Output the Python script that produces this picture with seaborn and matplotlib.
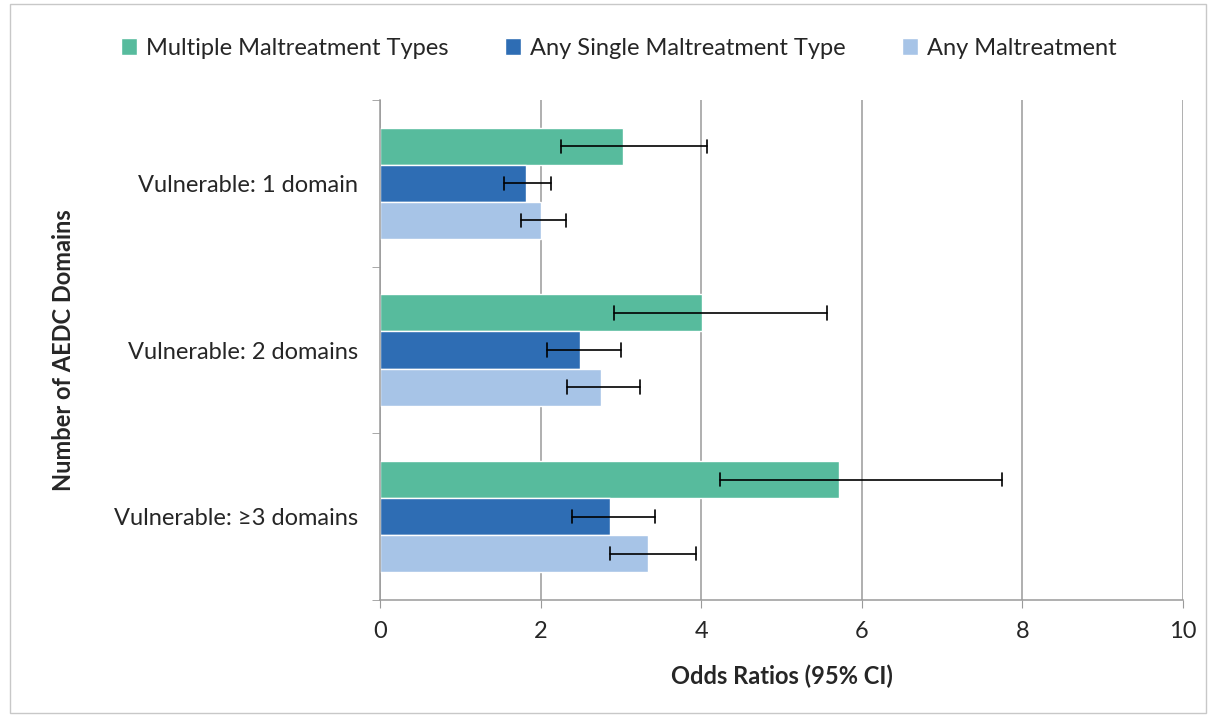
import matplotlib
matplotlib.use("Agg")
import matplotlib.pyplot as plt
from matplotlib.patches import Rectangle
import seaborn as sns
import pandas as pd
import numpy as np

# data
domains = ["Vulnerable: 1 domain", "Vulnerable: 2 domains", "Vulnerable: \u22653 domains"]
series = ["Multiple Maltreatment Types", "Any Single Maltreatment Type", "Any Maltreatment"]
multiple_or = [3.03, 4.01, 5.72]
multiple_lo = [2.26, 2.91, 4.24]
multiple_hi = [4.07, 5.57, 7.74]
single_or = [1.82, 2.49, 2.87]
single_lo = [1.55, 2.08, 2.39]
single_hi = [2.13, 3.00, 3.43]
any_or = [2.00, 2.75, 3.34]
any_lo = [1.75, 2.33, 2.86]
any_hi = [2.32, 3.24, 3.93]
colors = ["#57BB9D", "#2E6DB4", "#A7C4E7"]

sns.set_style("white")
plt.rcParams["font.family"] = ["Lato", "DejaVu Sans"]
FS = 17

df = pd.DataFrame({
    "domain": domains * 3,
    "series": [s for s in series for _ in domains],
    "odds": multiple_or + single_or + any_or,
})
lows = [multiple_lo, single_lo, any_lo]
highs = [multiple_hi, single_hi, any_hi]

fig = plt.figure(figsize=(12.16, 7.17), dpi=100)
ax = fig.add_axes([0.3125, 0.1632, 0.6604, 0.6973])

sns.barplot(data=df, y="domain", x="odds", hue="series", order=domains,
            hue_order=series, palette=colors, width=0.667, orient="h",
            saturation=1, ax=ax, legend=True)

# error bars placed on the bar centres seaborn computed
for cont, lo, hi in zip(ax.containers, lows, highs):
    for bar, l, h in zip(cont, lo, hi):
        y = bar.get_y() + bar.get_height() / 2
        ax.plot([l, h], [y, y], color="black", lw=1.2, zorder=5)
        for xv in (l, h):
            ax.plot([xv, xv], [y - 0.04, y + 0.04], color="black", lw=1.2, zorder=5)

ax.set_xlim(0, 10)
ax.set_ylim(2.5, -0.5)
ax.set_xticks(np.arange(0, 11, 2))
ax.xaxis.grid(True, color="#9a9a9a", lw=1.1)
ax.set_axisbelow(True)
for s in ["top", "right"]:
    ax.spines[s].set_visible(False)
for s in ["left", "bottom"]:
    ax.spines[s].set_color("#9a9a9a")
    ax.spines[s].set_linewidth(1.1)

ax.tick_params(axis="x", which="major", length=6, color="#9a9a9a", labelsize=FS, pad=9, direction="out", bottom=True)
ax.tick_params(axis="y", which="major", length=0, labelsize=FS, pad=16)
ax.set_yticks([-0.5, 0.5, 1.5, 2.5], minor=True)
ax.tick_params(axis="y", which="minor", length=6, color="#9a9a9a", direction="out", left=True)

ax.set_xlabel("Odds Ratios (95% CI)", fontsize=FS, fontweight="bold", labelpad=16)
ax.set_ylabel("Number of AEDC Domains", fontsize=FS, fontweight="bold", labelpad=28)

ax.legend(loc="lower center", bbox_to_anchor=(0.297, 1.04), ncol=3, frameon=False,
          fontsize=FS, handlelength=0.7, handleheight=0.7, handletextpad=0.35,
          columnspacing=2.4)

fig.patches.append(Rectangle((0.008, 0.005), 0.984, 0.99, transform=fig.transFigure,
                             fill=False, edgecolor="#c8c8c8", lw=1))

fig.savefig("out.png", dpi=100)
